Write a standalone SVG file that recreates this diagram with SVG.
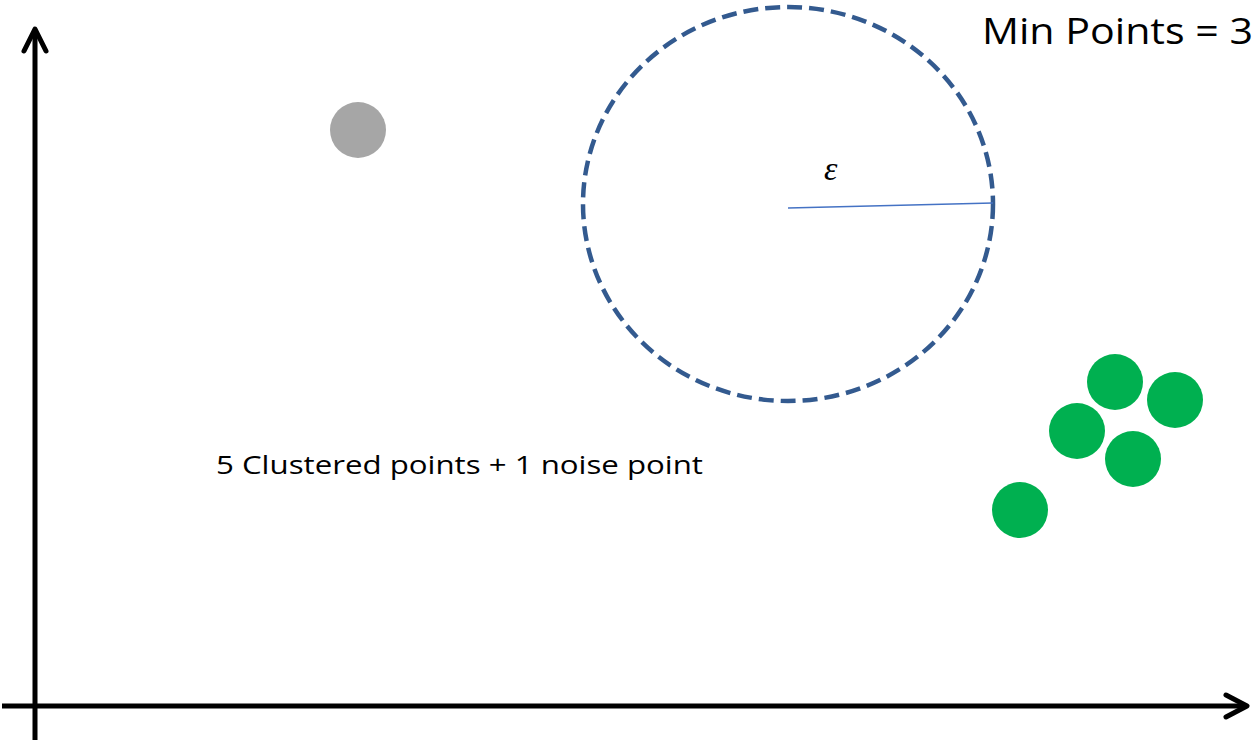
<svg xmlns="http://www.w3.org/2000/svg" width="1259" height="741" viewBox="0 0 1259 741">
<style>
.axis{stroke:#000;stroke-width:5;fill:none;stroke-linecap:round;stroke-linejoin:round}
.pt{fill:#00b050}
.lbl{font-family:"Open Sans","Liberation Sans",sans-serif;fill:#000}
</style>
<rect width="1259" height="741" fill="#fff"/>
<g id="connectors">
<line class="axis" x1="35" y1="740" x2="35" y2="30" style="stroke-linecap:butt"/>
<polyline class="axis" points="24,51 35,29 46,51"/>
<line class="axis" x1="2" y1="706" x2="1246" y2="706" style="stroke-linecap:butt"/>
<polyline class="axis" points="1226,695 1247,706 1226,717"/>
</g>
<g id="eps-circle">
<ellipse cx="788" cy="204" rx="205" ry="197" fill="none" stroke="#335a8f" stroke-width="4.5" stroke-dasharray="15 7"/>
<line x1="788" y1="208" x2="993" y2="203" stroke="#4472c4" stroke-width="1.5"/>
<text x="824" y="180" font-family="Liberation Serif,serif" font-style="italic" font-size="34">ε</text>
</g>
<g id="noise"><circle cx="358" cy="130" r="28" fill="#a6a6a6"/></g>
<g id="cluster">
<circle class="pt" cx="1115" cy="382" r="28"/>
<circle class="pt" cx="1175" cy="400" r="28"/>
<circle class="pt" cx="1077" cy="431" r="28"/>
<circle class="pt" cx="1133" cy="459" r="28"/>
<circle class="pt" cx="1020" cy="510" r="28"/>
</g>
<g id="labels">
<text class="lbl" x="982" y="44" font-size="36" textLength="271" lengthAdjust="spacingAndGlyphs">Min Points = 3</text>
<text class="lbl" x="216" y="474" font-size="25" textLength="487" lengthAdjust="spacingAndGlyphs">5 Clustered points + 1 noise point</text>
</g>
</svg>
